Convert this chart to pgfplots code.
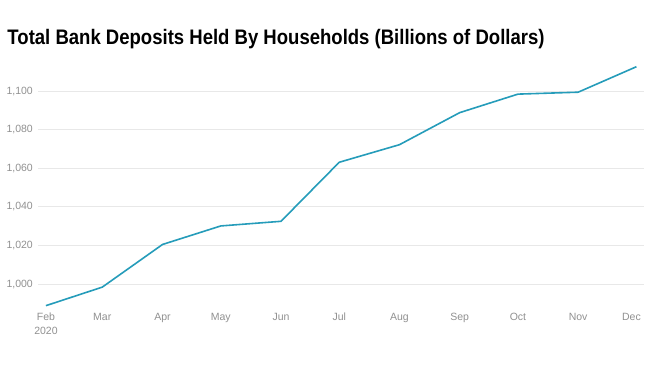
\documentclass[border=0pt]{standalone}
\usepackage{pgfplots}
\pgfplotsset{compat=1.18}
\usepackage{fontspec}
\setmainfont{Liberation Sans}
\definecolor{linec}{RGB}{37,156,186}
\definecolor{gridc}{RGB}{232,232,232}
\definecolor{tickc}{RGB}{145,145,145}
\begin{document}
\begin{tikzpicture}
\path[use as bounding box, fill=white] (0,0) rectangle (650pt,366pt);
\node[anchor=base west, inner sep=0pt] at (7.3pt,321.7pt)
  {\resizebox{537pt}{\height}{\fontsize{21}{25}\selectfont\bfseries Total Bank Deposits Held By Households (Billions of Dollars)}};
\begin{axis}[
  at={(38pt,58.8pt)}, anchor=south west,
  scale only axis, width=606pt, height=247.04pt,
  xmin=-4.1, xmax=307.9, ymin=988, ymax=1116,
  clip=false,
  axis line style={draw=none},
  tick style={draw=none},
  ymajorgrids, grid style={gridc, line width=0.8pt},
  ytick={1000,1020,1040,1060,1080,1100},
  xtick={0,29,60,90,121,151,182,213,243,274,304},
  xticklabels={{\begin{tabular}[t]{@{}c@{}}Feb\\2020\end{tabular}},Mar,Apr,May,Jun,Jul,Aug,Sep,Oct,Nov,\hspace*{-10pt}Dec},
  /pgf/number format/.cd, 1000 sep={,}, assume math mode=true,
  /pgfplots/.cd,
  ticklabel style={font=\fontsize{10.5}{14}\selectfont, text=tickc},
  yticklabel style={anchor=east, inner sep=0pt, xshift=-5pt},
  xticklabel style={anchor=base, inner sep=0pt, yshift=-13.8pt},
]
\addplot[linec, line width=1.6pt, line join=round] coordinates {
(0,988.8) (29,998.4) (60,1020.5) (90,1030.1) (121,1032.5) (151,1063.1) (182,1072.2) (213,1088.8) (243,1098.4) (274,1099.4) (304,1112.6)
};
\end{axis}
\end{tikzpicture}
\end{document}
